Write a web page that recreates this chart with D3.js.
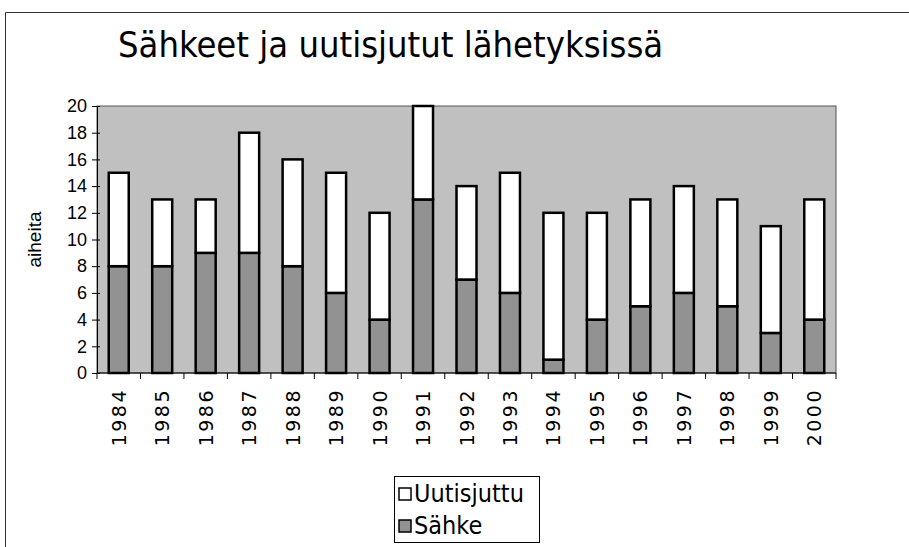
<!DOCTYPE html>
<html lang="fi">
<head>
<meta charset="UTF-8">
<title>Sähkeet ja uutisjutut</title>
<script src="https://d3js.org/d3.v7.min.js"></script>
<style>
  body { margin: 0; background: #fff; }
  text { font-family: "DejaVu Sans", Verdana, sans-serif; fill: #000; }
</style>
</head>
<body>
<svg width="909" height="547"></svg>
<script>
// data
var years = ['1984','1985','1986','1987','1988','1989','1990','1991','1992','1993','1994','1995','1996','1997','1998','1999','2000'];
var sahke = [8, 8, 9, 9, 8, 6, 4, 13, 7, 6, 1, 4, 5, 6, 5, 3, 4];
var uutisjuttu = [7, 5, 4, 9, 8, 9, 8, 7, 7, 9, 11, 8, 8, 8, 8, 8, 9];
var yTicks = [0, 2, 4, 6, 8, 10, 12, 14, 16, 18, 20];

var svg = d3.select('svg');

// outer frame
svg.append('path')
    .attr('d', 'M5.5,547 L5.5,12.5 L909,12.5')
    .attr('fill', 'none').attr('stroke', '#333').attr('stroke-width', 1);

var pLeft = 97, pRight = 836, pTop = 106, pBottom = 373;

var x = d3.scaleBand().domain(years).range([pLeft, pRight]).paddingInner(0.54).paddingOuter(0.27);
var y = d3.scaleLinear().domain([0, 20]).range([pBottom, pTop]);

// plot background
svg.append('rect')
    .attr('x', pLeft).attr('y', pTop)
    .attr('width', pRight - pLeft).attr('height', pBottom - pTop)
    .attr('fill', '#c0c0c0').attr('stroke', '#555').attr('stroke-width', 1);

var rows = years.map((d, i) => ({year: d, sahke: sahke[i], uutisjuttu: uutisjuttu[i]}));
var stack = d3.stack().keys(['sahke', 'uutisjuttu'])(rows);
var fills = {sahke: '#929292', uutisjuttu: '#ffffff'};

svg.selectAll('g.series').data(stack).enter().append('g')
    .attr('class', 'series')
    .attr('fill', d => fills[d.key])
  .selectAll('rect').data(d => d).enter().append('rect')
    .attr('x', d => x(d.data.year))
    .attr('width', x.bandwidth())
    .attr('y', d => y(d[1]))
    .attr('height', d => y(d[0]) - y(d[1]))
    .attr('stroke', '#000').attr('stroke-width', 2.5);

// y axis (ticks cross the axis line)
var yAxis = svg.append('g')
    .attr('transform', 'translate(' + pLeft + ',0)')
    .call(d3.axisLeft(y).tickValues(yTicks).tickSize(5).tickSizeOuter(0));
yAxis.select('.domain').attr('stroke', '#000');
yAxis.selectAll('.tick line').attr('x2', 3).attr('x1', -5);
yAxis.selectAll('text')
    .style('font-family', '"Liberation Sans", Arial, sans-serif')
    .style('font-size', '18px').attr('dx', '-2');

// x axis: ticks between categories
var xAxis = svg.append('g')
    .attr('transform', 'translate(0,' + pBottom + ')');
xAxis.append('line').attr('x1', pLeft).attr('x2', pRight).attr('stroke', '#000');
var bounds = d3.range(years.length + 1).map(i => pLeft + i * (pRight - pLeft) / years.length);
xAxis.selectAll('line.tk').data(bounds).enter().append('line')
    .attr('class', 'tk')
    .attr('x1', d => d).attr('x2', d => d)
    .attr('y1', 0).attr('y2', 6).attr('stroke', '#000');
xAxis.selectAll('text').data(years).enter().append('text')
    .attr('transform', d => 'translate(' + (x(d) + x.bandwidth() / 2 + 7) + ',15) rotate(-90)')
    .attr('text-anchor', 'end')
    .style('font-size', '19px')
    .style('letter-spacing', '2.5px')
    .text(d => d);

// titles
svg.append('text')
    .attr('x', 118).attr('y', 57)
    .style('font-family', '"DejaVu Sans Condensed", "DejaVu Sans", sans-serif')
    .style('font-size', '36px')
    .text('Sähkeet ja uutisjutut lähetyksissä');

svg.append('text')
    .attr('transform', 'translate(41,' + ((pTop + pBottom) / 2) + ') rotate(-90)')
    .attr('text-anchor', 'middle')
    .style('font-family', '"Liberation Sans", Arial, sans-serif')
    .style('font-size', '19px')
    .text('aiheita');

// legend
var legend = svg.append('g').attr('transform', 'translate(394,476)');
legend.append('rect')
    .attr('x', 0.5).attr('y', 0.5).attr('width', 145).attr('height', 66)
    .attr('fill', '#fff').attr('stroke', '#000');
var legendItems = [{label: 'Uutisjuttu', key: 'uutisjuttu'}, {label: 'Sähke', key: 'sahke'}];
var li = legend.selectAll('g.item').data(legendItems).enter().append('g')
    .attr('class', 'item')
    .attr('transform', (d, i) => 'translate(5,' + (12 + i * 32) + ')');
li.append('rect')
    .attr('width', 12).attr('height', 12)
    .attr('fill', d => fills[d.key]).attr('stroke', '#000').attr('stroke-width', 1.5);
li.append('text')
    .attr('x', 15).attr('y', 14)
    .style('font-family', '"DejaVu Sans Condensed", "DejaVu Sans", sans-serif')
    .style('font-size', '25px')
    .text(d => d.label);
</script>
</body>
</html>
